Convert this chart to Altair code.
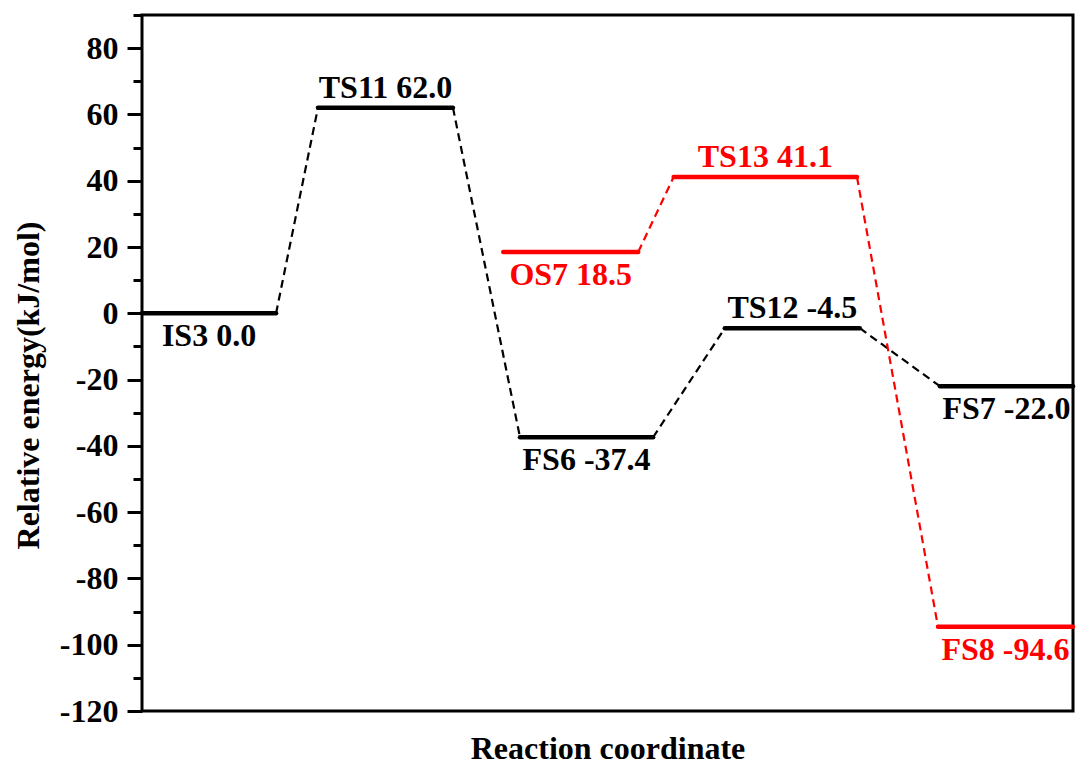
import altair as alt
import pandas as pd

# Energy levels along the reaction coordinate (kJ/mol)
states = ["IS3", "TS11", "OS7", "FS6", "TS13", "TS12", "FS7", "FS8"]
energies = [0.0, 62.0, 18.5, -37.4, 41.1, -4.5, -22.0, -94.6]
x_start = [0.00, 1.89, 3.88, 4.06, 5.71, 6.26, 8.57, 8.55]
x_end = [1.44, 3.34, 5.33, 5.49, 7.68, 7.71, 10.0, 10.0]
pathway = ["main", "main", "alt", "main", "alt", "main", "main", "alt"]
label_side = ["below", "above", "below", "below", "above", "above", "below", "below"]

# Elementary steps linking the levels
steps_from = ["IS3", "TS11", "FS6", "TS12", "OS7", "TS13"]
steps_to = ["TS11", "FS6", "TS12", "FS7", "TS13", "FS8"]

levels = pd.DataFrame({
    "state": states, "energy": energies, "x0": x_start, "x1": x_end,
    "path": pathway, "side": label_side,
})
levels["xm"] = (levels["x0"] + levels["x1"]) / 2
levels["label"] = [f"{s} {e:.1f}" for s, e in zip(states, energies)]

idx = levels.set_index("state")
steps = pd.DataFrame({
    "xa": [idx.loc[a, "x1"] for a in steps_from],
    "ya": [idx.loc[a, "energy"] for a in steps_from],
    "xb": [idx.loc[b, "x0"] for b in steps_to],
    "yb": [idx.loc[b, "energy"] for b in steps_to],
    "path": [idx.loc[b, "path"] for b in steps_to],
})
steps["order"] = steps["path"].map({"main": 0, "alt": 1})
steps = steps.sort_values("order")

FONT = "Liberation Serif"
color = alt.Color("path:N", scale=alt.Scale(domain=["main", "alt"], range=["#000000", "#ff0000"]), legend=None)
xs = alt.Scale(domain=[0, 10], nice=False, zero=False)
ys = alt.Scale(domain=[-120, 90], nice=False, zero=False)

major_axis = alt.Axis(
    orient="left", values=list(range(-120, 81, 20)), tickSize=15, tickWidth=3, tickColor="black",
    domain=False, grid=False, labelFont=FONT, labelFontSize=32, labelFontWeight="bold",
    labelColor="black", labelPadding=9, labelExpr="toString(datum.value)",
    title="Relative energy(kJ/mol)", titleFont=FONT, titleFontSize=32, titleFontWeight="bold",
    titleColor="black", titleAngle=270, titleX=-114, titleY=370, titleAlign="center",
    titleBaseline="middle",
)
minor_axis = alt.Axis(
    orient="left", values=list(range(-110, 91, 20)), tickSize=9, tickWidth=3, tickColor="black",
    domain=False, grid=False, labels=False, title=None,
)
x_axis = alt.Axis(
    orient="bottom", domain=False, ticks=False, labels=False, grid=False,
    title="Reaction coordinate", titleFont=FONT, titleFontSize=32, titleFontWeight="bold",
    titleColor="black", titleY=47, titleBaseline="alphabetic",
)
X0 = alt.X("xa:Q", scale=xs, axis=x_axis)

connectors = alt.Chart(steps).mark_rule(strokeWidth=2.2, strokeDash=[8, 5]).encode(
    x=X0, x2="xb:Q",
    y=alt.Y("ya:Q", scale=ys, axis=major_axis), y2="yb:Q",
    color=color,
)

bars = alt.Chart(levels).mark_rule(strokeWidth=4.5, strokeCap="round").encode(
    x=alt.X("x0:Q", scale=xs, axis=x_axis), x2="x1:Q",
    y=alt.Y("energy:Q", scale=ys, axis=minor_axis),
    color=color,
)

text_base = alt.Chart(levels).encode(
    x=alt.X("xm:Q", scale=xs, axis=x_axis),
    y=alt.Y("energy:Q", scale=ys, axis=None),
    text="label:N",
    color=color,
)
above = text_base.mark_text(font=FONT, fontSize=32, fontWeight="bold", baseline="alphabetic",
                            align="center", dy=-10).transform_filter(alt.datum.side == "above")
below = text_base.mark_text(font=FONT, fontSize=32, fontWeight="bold", baseline="alphabetic",
                            align="center", dy=33).transform_filter(alt.datum.side == "below")

chart = alt.layer(connectors, bars, above, below).resolve_axis(y="independent").resolve_scale(
    y="shared", x="shared"
).properties(
    width=931, height=696,
    autosize=alt.AutoSizeParams(type="none"),
    padding={"left": 142, "top": 15, "right": 3, "bottom": 56},
    background="white",
).configure_view(stroke="black", strokeWidth=3)

chart.save("out.html", embed_options={"renderer": "svg", "actions": False})
